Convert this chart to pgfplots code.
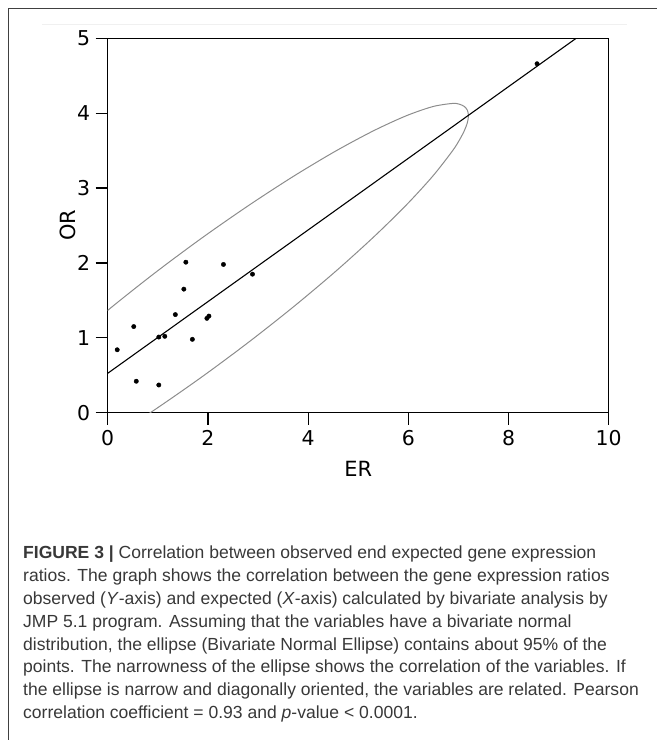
\documentclass[border=0pt]{standalone}
\usepackage{fontspec}
\usepackage{pgfplots}
\pgfplotsset{compat=1.18}
\newfontfamily\dejavu{DejaVu Sans}
\newfontfamily\capfont{Liberation Sans}
\definecolor{ellgray}{gray}{0.55}
\definecolor{captext}{gray}{0.22}

\begin{document}
\begin{tikzpicture}
% frame of the figure panel
\draw[line width=0.9bp, black!75] (8bp,0) -- (8bp,732bp) -- (657bp,732bp);
\draw[line width=1bp, black!6] (42bp,715bp) -- (627bp,715bp);

\begin{axis}[
  at={(107.7bp,327.3bp)}, anchor=south west,
  scale only axis, width=501bp, height=374.4bp,
  xmin=0, xmax=10, ymin=0, ymax=5,
  xtick={0,2,...,10}, ytick={0,1,2,3,4,5},
  tick align=outside, tick pos=left,
  major tick length=12bp,
  axis line style={line width=1.3bp},
  tick style={line width=1.2bp, black},
  tick label style={font=\dejavu\fontsize{20.5}{24}\selectfont},
  yticklabel style={xshift=-2bp},
  xticklabel style={yshift=-2bp},
  /pgf/number format/assume math mode=true,
  xlabel={ER}, ylabel={OR},
  every axis x label/.style={at={(axis description cs:0.5,0)}, anchor=center, yshift=-56bp},
  every axis y label/.style={at={(axis description cs:0,0.5)}, xshift=-40bp, rotate=90, anchor=center},
  label style={font=\dejavu\fontsize{21}{24}\selectfont},
]
% bivariate normal ellipse (95%)
\addplot[smooth, ellgray, line width=1bp] coordinates {
  (-3.420,-1.147) (-3.339,-1.269) (-3.100,-1.310) (-2.709,-1.268)
  (-2.178,-1.145) (-1.523,-0.944) (-0.765,-0.672) (0.074,-0.336)
  (0.968,0.053) (1.890,0.483) (2.812,0.941) (3.706,1.413)
  (4.545,1.885) (5.303,2.343) (5.958,2.772) (6.489,3.160)
  (6.880,3.495) (7.019,3.640) (7.119,3.767) (7.180,3.876)
  (7.200,3.967) (7.180,4.038) (7.119,4.089) (7.019,4.120)
  (6.880,4.130) (6.489,4.088) (5.958,3.965) (5.303,3.764)
  (4.545,3.492) (3.706,3.156) (2.812,2.767) (1.890,2.338)
  (0.968,1.880) (0.074,1.407) (-0.765,0.935) (-1.523,0.477)
  (-2.178,0.048) (-2.709,-0.340) (-3.100,-0.675) (-3.339,-0.947)
  (-3.420,-1.147)
};
% linear fit
\addplot[black, line width=1.1bp] coordinates {(0,0.526) (9.35,5.0)};
% observations
\addplot[only marks, mark=*, mark size=2.2bp, black] coordinates {
  (0.19,0.84) (0.52,1.15) (0.57,0.42) (1.02,1.01) (1.14,1.02)
  (1.02,0.37) (1.35,1.31) (1.52,1.65) (1.56,2.01) (1.69,0.98)
  (1.98,1.26) (2.02,1.29) (2.31,1.98) (2.89,1.85) (8.57,4.66)
};
\end{axis}

\node[anchor=north west, align=left, inner sep=0, text=captext,
      font=\capfont\fontsize{17.6}{23}\selectfont] at (23bp,194.5bp) {%
\textbf{FIGURE 3 |} Correlation between observed end expected gene expression\\
ratios. The graph shows the correlation between the gene expression ratios\\
observed (\textit{Y}-axis) and expected (\textit{X}-axis) calculated by bivariate analysis by\\
JMP 5.1 program. Assuming that the variables have a bivariate normal\\
distribution, the ellipse (Bivariate Normal Ellipse) contains about 95\% of the\\
points. The narrowness of the ellipse shows the correlation of the variables. If\\
the ellipse is narrow and diagonally oriented, the variables are related. Pearson\\
correlation coefficient = 0.93 and \textit{p}-value < 0.0001.};

\pgfresetboundingbox
\useasboundingbox (0,0) rectangle (657bp,740bp);
\end{tikzpicture}
\end{document}
